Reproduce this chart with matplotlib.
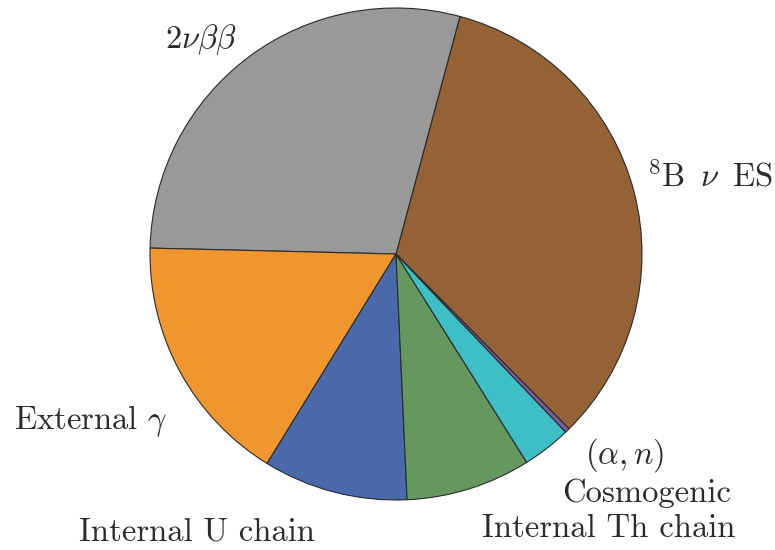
"""Pie chart of the expected background composition."""

import matplotlib.pyplot as plt

plt.rcParams["font.family"] = "serif"
plt.rcParams["font.serif"] = ["cmr10"]
plt.rcParams["mathtext.fontset"] = "cm"
plt.rcParams["axes.unicode_minus"] = False

labels = [
    r"$^8$B $\,\nu\,$ ES",
    r"$2\nu\beta\beta$",
    r"External $\gamma$",
    "Internal U chain",
    "Internal Th chain",
    "Cosmogenic",
    r"$(\alpha, n)$",
]
fractions = [33.4, 28.8, 16.6, 9.5, 8.2, 3.2, 0.3]
colors = ["#946235", "#999999", "#f0962f", "#4a69ab", "#64985f", "#3ebfc5", "#7a5c9e"]

# small nudges so the labels clear each other
label_shift = [(-0.042, 0.035), (0.014, -0.01), (0.039, -0.154), (-0.055, -0.065),
               (0.022, -0.065), (0.0, -0.106), (0.0, -0.03)]

fig = plt.figure(figsize=(7.75, 5.5), dpi=100)
ax = fig.add_axes([150 / 775, 50 / 550, 492 / 775, 492 / 550])

wedges, texts = ax.pie(
    fractions,
    labels=labels,
    colors=colors,
    startangle=-45.3,
    counterclock=True,
    labeldistance=1.1,
    wedgeprops={"edgecolor": "#2a2a2a", "linewidth": 0.8},
    textprops={"fontsize": 23.5, "color": "#2b2b2b"},
)

for text, (dx, dy) in zip(texts, label_shift):
    x, y = text.get_position()
    text.set_position((x + dx, y + dy))

ax.set_xlim(-1, 1)
ax.set_ylim(-1, 1)
ax.set_aspect("equal")
ax.axis("off")

fig.savefig("out.png", dpi=100)
